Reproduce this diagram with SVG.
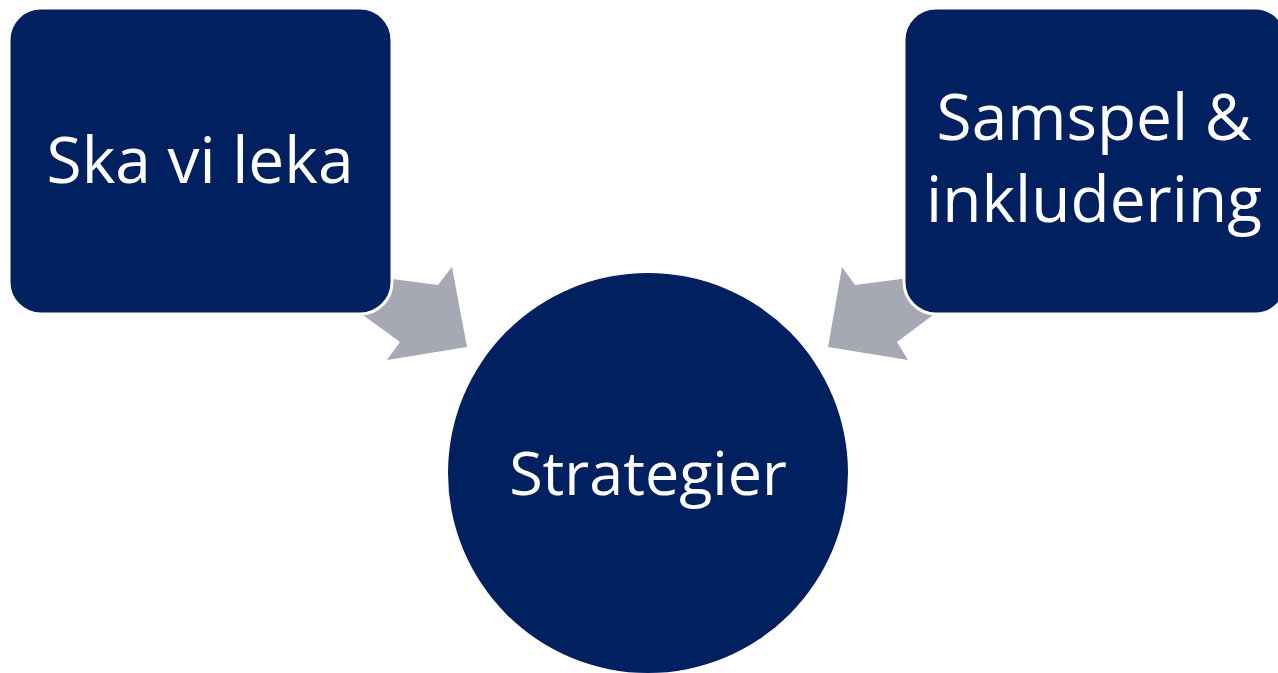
<svg xmlns="http://www.w3.org/2000/svg" width="1278" height="673" viewBox="0 0 1278 673">
<style>
.node{fill:#002060;stroke:#ffffff;stroke-width:3}
.arrow{fill:#A6A8B3}
.lbl{fill:#ffffff;font-family:"Open Sans","Liberation Sans",sans-serif;font-size:64px;text-anchor:middle}
</style>
<rect width="1278" height="673" fill="#ffffff"/>
<g id="connectors">
<polygon class="arrow" points="340,272 438,285 452,267 467,347 387,360 400,342 363,315"/>
<polygon class="arrow" points="955,272 855,285 842,267 828,347 908,360 897,342 933,315"/>
</g>
<g id="node-ska">
<rect class="node" x="9" y="8" width="383" height="306" rx="32"/>
<text class="lbl" x="200" y="183">Ska vi leka</text>
</g>
<g id="node-samspel">
<rect class="node" x="904" y="8" width="383" height="306" rx="32"/>
<text class="lbl" x="1094" y="140">Samspel &amp;</text>
<text class="lbl" x="1094" y="222">inkludering</text>
</g>
<g id="node-strategier">
<circle cx="648" cy="473" r="200" fill="#002060"/>
<text class="lbl" x="648" y="495" style="font-size:61px">Strategier</text>
</g>
</svg>
